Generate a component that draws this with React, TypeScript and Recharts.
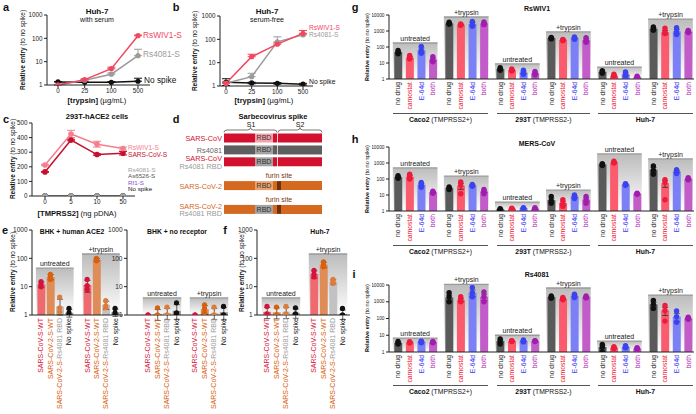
import React from "react";
import {
  LineChart, Line, XAxis, YAxis, ErrorBar, ComposedChart, Bar, Cell, Scatter,
  ReferenceArea, ReferenceLine, BarChart, LabelList,
} from "recharts";

const FONT = '"Liberation Sans", Arial, Helvetica, sans-serif';
const AX = { stroke: "#222", strokeWidth: 1 };

// ---------- panel a / b (Huh-7, trypsin) ----------
const trypsinConc = ["0", "25", "100", "500"];
const aRsWIV1 = [1.0, 1.7, 5.0, 130];
const aRsWIV1Err = [0.05, 0.15, 0.8, 8];
const aRs4081 = [1.0, 1.6, 2.9, 18];
const aRs4081Err = [0.05, 0.2, 0.4, 16];
const aNoSpike = [1.35, 1.3, 1.3, 1.45];
const aNoSpikeErr = [0.05, 0.05, 0.1, 0.5];

const bRsWIV1 = [1.3, 18, 62, 180];
const bRsWIV1Err = [0.1, 5, 8, 60];
const bRs4081 = [1.3, 2.5, 78, 155];
const bRs4081Err = [0.3, 1.0, 50, 15];
const bNoSpike = [1.45, 1.35, 1.3, 1.2];
const bNoSpikeErr = [0.6, 0.1, 0.1, 0.1];

// ---------- panel c (293T-hACE2, TMPRSS2) ----------
const tmprss2 = ["0", "5", "10", "50"];
const cRsWIV1 = [212, 425, 355, 325];
const cRsWIV1Err = [5, 25, 20, 10];
const cSARS = [165, 383, 284, 293];
const cSARSErr = [3, 5, 5, 12];
const cRs4081 = [0, 0, 0, 0];
const cAs6526 = [0, 0, 0, 0];
const cRf1 = [0, 0, 0, 0];
const cNoSpike = [0, 0, 0, 0];

// ---------- panel d (schematic) ----------
const dIds = ["r1", "r2", "r3", "s1", "r4", "s2", "r5"];
const dPre = [31, 31, 31, 0, 31, 0, 31];
const dRbd = [18, 18, 18, 0, 18, 0, 18];
const dMid = [4, 4, 4, 0, 4, 0, 4];
const dSite = [1, 1, 1, 0, 4, 0, 4];
const dPost = [44, 44, 44, 0, 41, 0, 41];
const dBody = ["#d3112f", "#5e5e5e", "#d3112f", "#fff", "#d4691f", "#fff", "#d4691f"];
const dRbdCol = ["#f4a3ad", "#a3a3a3", "#a3a3a3", "#fff", "#eba26c", "#fff", "#a3a3a3"];
const dSiteCol = ["#f7cdd3", "#cfcfcf", "#f7cdd3", "#fff", "#6e2f0b", "#fff", "#6e2f0b"];
const dRbdText = ["RBD", "RBD", "RBD", "", "RBD", "", "RBD"];
const dFurin = ["", "", "", "", "furin site", "", "furin site"];
const RED = "#d3112f", DGRAY = "#666", ORANGE = "#d4691f", LGRAY = "#9a9a9a";
const dLabels: any = {
  r1: [{ t: "SARS-CoV", c: RED }],
  r2: [{ t: "Rs4081", c: DGRAY }],
  r3: [{ t: "SARS-CoV", c: RED }, { t: "Rs4081 RBD", c: LGRAY }],
  r4: [{ t: "SARS-CoV-2", c: ORANGE }],
  r5: [{ t: "SARS-CoV-2", c: ORANGE }, { t: "Rs4081 RBD", c: LGRAY }],
};

// ---------- panels e / f ----------
const spikes = ["SARS-CoV-S-WT", "SARS-CoV-2-S-WT", "SARS-CoV-2-S-Rs4081 RBD", "No spike"];
const spikeBar = ["#ef6a6e", "#de8c58", "#c2c2c2", "#8a8a8a"];
const spikeDot = ["#d6133a", "#d8600e", "#dc7b3a", "#111111"];
const spikeLabel = [
  [{ t: "SARS-CoV-S-WT", c: "#d6133a" }],
  [{ t: "SARS-CoV-2-S-WT", c: "#d8600e" }],
  [{ t: "SARS-CoV-2-S-", c: "#d8600e" }, { t: "Rs4081 RBD", c: "#9a9a9a" }],
  [{ t: "No spike", c: "#111" }],
];
const eAce2Means = [[12, 22, 2.0, 1.2], [11.5, 90, 2.3, 1.25]];
const eAce2Reps = [
  [[10, 12, 15], [18, 22, 27], [1.3, 1.8, 4.3], [1.0, 1.2, 1.7]],
  [[8, 11, 18], [82, 90, 100], [1.8, 2.1, 3.2], [1.0, 1.2, 1.7]],
];
const eNoRecMeans = [[1.0, 1.1, 1.2, 1.4], [1.0, 1.6, 1.2, 1.25]];
const eNoRecReps = [
  [[1, 1, 1], [1, 1, 1.8], [1, 1, 1.9], [1, 1.2, 2.7]],
  [[1, 1, 1], [1.2, 1.7, 2.3], [1, 1, 1.9], [1, 1, 2.0]],
];
const fHuh7Means = [[1.3, 1.25, 1.3, 1.2], [28, 60, 15, 1.1]];
const fHuh7Reps = [
  [[1, 1.1, 2.0], [1, 1, 1.9], [1, 1.1, 2.0], [1, 1.1, 1.8]],
  [[22, 28, 38], [50, 60, 75], [13, 15, 18], [1, 1, 1.7]],
];
const eAce2BoxTop = [45, 142];
const eNoRecBoxTop = [4, 4];
const fHuh7BoxTop = [4, 142];
const treatments = ["untreated", "+trypsin"];

// ---------- panels g / h / i ----------
const drugs = ["no drug", "camostat", "E-64d", "both"];
const drugBar = ["#5a5a5a", "#fb5b6f", "#7b80f6", "#c25cc9"];
const drugDot = ["#111111", "#f01a3a", "#3b42f2", "#a21cb0"];
const drugText = ["#111", "#ee1434", "#3535f5", "#b016b0"];
const cellLines = ["Caco2", "293T", "Huh-7"];
const cellNotes = [" (TMPRSS2+)", " (TMPRSS2-)", ""];

const gMeans = [
  [48, 22, 65, 17], [3000, 2500, 2800, 3000], [4.2, 3.6, 2.6, 2.3],
  [360, 280, 360, 270], [2.8, 1.6, 2.0, 1.3], [1400, 850, 950, 900],
];
const gReps = [
  [[38, 45, 60], [18, 22, 30], [40, 60, 110], [12, 16, 25]],
  [[2600, 3000, 3500], [2300, 2500, 2800], [2000, 2600, 4000], [2500, 3000, 3700]],
  [[3.5, 4.2, 5], [3.2, 3.6, 4.2], [2.0, 2.5, 3.5], [1.8, 2.2, 3.0]],
  [[320, 360, 400], [250, 280, 300], [300, 350, 420], [200, 260, 380]],
  [[2.3, 2.8, 3.3], [1.4, 1.6, 2.0], [1.5, 2.0, 2.8], [1.1, 1.3, 1.5]],
  [[1100, 1400, 1800], [700, 900, 1500], [600, 900, 1600], [800, 900, 1100]],
];
const gBoxTop = [178, 7500, 8.7, 870, 5.6, 5600];

const hMeans = [
  [130, 140, 45, 15], [27, 38, 40, 17], [1.3, 1.4, 1.5, 1.4],
  [4.8, 3.2, 8, 5.2], [800, 1100, 45, 12], [380, 55, 300, 100],
];
const hReps = [
  [[110, 130, 160], [100, 130, 200], [30, 45, 60], [13, 15, 17]],
  [[22, 27, 32], [12, 40, 65], [35, 40, 45], [12, 17, 22]],
  [[1.1, 1.3, 1.4], [1.3, 1.4, 1.5], [1.3, 1.5, 1.6], [1.2, 1.4, 1.6]],
  [[3, 4.5, 8], [2, 3, 5], [6, 8, 10], [3, 5, 8]],
  [[700, 800, 900], [1000, 1100, 1300], [40, 45, 50], [11, 12, 13]],
  [[200, 350, 650], [5, 60, 90], [220, 300, 380], [90, 100, 120]],
];
const hBoxTop = [490, 150, 3.6, 20, 3700, 1800];

const iMeans = [
  [3.5, 3.8, 4, 3.8], [1800, 1300, 3500, 2000], [4.5, 4.5, 4.5, 4.5],
  [1900, 1500, 2200, 1900], [2.0, 1.8, 2.0, 1.6], [700, 300, 130, 100],
];
const iReps = [
  [[3, 3.5, 4.2], [3.5, 3.8, 4.1], [3.6, 4, 4.5], [3.6, 3.8, 4.2]],
  [[1000, 2000, 3500], [1000, 1300, 2000], [2000, 3500, 7000], [1000, 2000, 3800]],
  [[3, 4.5, 6], [4.2, 4.5, 4.8], [4, 4.5, 5.2], [4.2, 4.5, 4.8]],
  [[1600, 1900, 2200], [1300, 1500, 1800], [1800, 2200, 2800], [1700, 1900, 2200]],
  [[1.0, 2.0, 2.8], [1.6, 1.8, 2.1], [1.8, 2.0, 2.4], [1.4, 1.6, 1.8]],
  [[400, 700, 1200], [70, 300, 600], [60, 130, 280], [90, 100, 120]],
];
const iBoxTop = [6.8, 11000, 10, 6600, 4.5, 2500];

// ---------- helpers ----------
type Frame = { cl: number; ct: number; cw: number; ch: number; l: number; t: number; r: number; b: number };
const fr = (f: Frame) => ({
  margin: { top: f.t - f.ct, right: f.cl + f.cw - f.r, bottom: 0, left: 0 },
  yW: f.l - f.cl,
  xH: f.ct + f.ch - f.b,
});

function T(props: any) {
  const { x, y, s = 7, w = 400, c = "#111", a = "c", rot = false, children } = props;
  const tx = a === "c" ? "-50%" : a === "r" ? "-100%" : "0";
  return (
    <div
      style={{
        position: "absolute", left: x, top: y, fontSize: s, fontWeight: w, color: c,
        whiteSpace: "nowrap", lineHeight: 1,
        transform: `translate(${tx},-50%)${rot ? " rotate(-90deg)" : ""}`,
      }}
    >
      {children}
    </div>
  );
}

function YLab({ x, y, s = 6.5 }: any) {
  return (
    <T x={x} y={y} s={s} rot>
      <b>Relative entry</b> (to no spike)
    </T>
  );
}

function buildBars(means: number[][], reps: number[][][], fills: string[], dots: string[], labels: any[], stride: number, useSd: boolean) {
  const bars: any[] = [];
  const pts: any[] = [];
  means.forEach((grp, gi) =>
    grp.forEach((v, di) => {
      const x = gi * stride + di;
      const r = reps[gi][di];
      const m = r.reduce((a, b) => a + b, 0) / r.length;
      const sd = Math.sqrt(r.reduce((a, b) => a + (b - m) * (b - m), 0) / (r.length - 1));
      const e = useSd ? sd : sd / Math.sqrt(r.length);
      bars.push({ x, v, err: [Math.min(e, v * 0.5), e], fill: fills[di], lab: labels[di] });
      r.forEach((y) => pts.push({ x, y, c: dots[di] }));
    })
  );
  return { bars, pts };
}

function BarPanel(props: any) {
  const { f, bars, pts, xDomain, yDomain, yTicks, boxes, boxL, boxR, stride, yFont, tickFont, dotR } = props;
  const g = fr(f);
  const RotTick = (tp: any) => {
    const d = bars[tp.index];
    if (!d) return null;
    const { x, y } = tp;
    return (
      <text x={x} y={y} transform={`rotate(-90 ${x} ${y})`} textAnchor="end" dy="0.35em" fontSize={tickFont}>
        {d.lab.map((s: any, i: number) => (
          <tspan key={i} fill={s.c}>{s.t}</tspan>
        ))}
      </text>
    );
  };
  return (
    <div style={{ position: "absolute", left: f.cl, top: f.ct }}>
      <ComposedChart width={f.cw} height={f.ch} data={bars} margin={g.margin}>
        <XAxis
          type="number" dataKey="x" domain={xDomain} ticks={bars.map((d: any) => d.x)} interval={0}
          allowDataOverflow height={g.xH} tickLine={false} tickSize={0} tickMargin={3} axisLine={AX} tick={RotTick}
        />
        <YAxis
          type="number" scale="log" domain={yDomain} ticks={yTicks} allowDataOverflow width={g.yW} interval={0}
          tickSize={3} tickMargin={1.5} axisLine={AX} tickLine={AX} tick={{ fontSize: yFont, fill: "#222" }}
        />
        {boxes.map((top: number, gi: number) => (
          <ReferenceArea
            key={"a" + gi} x1={gi * stride + boxL} x2={gi * stride + boxR} y1={yDomain[0]} y2={top}
            fill="url(#shadeG)" fillOpacity={1} stroke="none" ifOverflow="visible" zIndex={-10}
            label={{ value: treatments[gi % 2], position: "top", fontSize: 7, fill: "#222", offset: 2 }}
          />
        ))}
        {boxes.map((top: number, gi: number) => (
          <ReferenceLine
            key={"l" + gi}
            segment={[{ x: gi * stride + boxL, y: top }, { x: gi * stride + boxR, y: top }]}
            stroke="#9a9a9a" strokeWidth={1.3} ifOverflow="visible"
          />
        ))}
        <Bar dataKey="v" barSize={8} isAnimationActive={false}>
          {bars.map((d: any, i: number) => (
            <Cell key={i} fill={d.fill} />
          ))}
          <ErrorBar dataKey="err" width={3} stroke="#222" strokeWidth={0.7} direction="y" />
        </Bar>
        <Scatter
          data={pts} dataKey="y" isAnimationActive={false}
          shape={(s: any) => <circle cx={s.cx} cy={s.cy} r={dotR} fill={s.payload.c} />}
        />
      </ComposedChart>
    </div>
  );
}

function LinePanel(props: any) {
  const { f, data, pad, log, yDomain, yTicks, series, dotR, xFont, yFont } = props;
  const g = fr(f);
  return (
    <div style={{ position: "absolute", left: f.cl, top: f.ct }}>
      <LineChart width={f.cw} height={f.ch} data={data} margin={g.margin}>
        <XAxis
          dataKey="c" type="category" padding={{ left: pad[0], right: pad[1] }} height={g.xH} interval={0}
          tickSize={3} tickMargin={1} axisLine={AX} tickLine={AX} tick={{ fontSize: xFont, fill: "#222" }}
        />
        <YAxis
          type="number" scale={log ? "log" : "linear"} domain={yDomain} ticks={yTicks} allowDataOverflow
          width={g.yW} interval={0} tickSize={3} tickMargin={1.5} axisLine={AX} tickLine={AX}
          tick={{ fontSize: yFont, fill: "#222" }}
        />
        {series.map((s: any) => (
          <Line
            key={s.k} dataKey={s.k} stroke={s.c} strokeWidth={1.5} isAnimationActive={false}
            dot={{ r: dotR, fill: s.c, stroke: s.c, strokeWidth: 0 }} activeDot={false}
          >
            {s.e ? <ErrorBar dataKey={s.e} width={4} stroke={s.c} strokeWidth={1} direction="y" /> : null}
          </Line>
        ))}
      </LineChart>
    </div>
  );
}

function DTick(tp: any) {
  const lines = dLabels[tp.payload.value] || [];
  const n = lines.length;
  return (
    <g>
      {lines.map((ln: any, i: number) => (
        <text key={i} x={tp.x} y={tp.y + (i - (n - 1) / 2) * 7.5} dy="0.35em" textAnchor="end" fontSize={7.3} fill={ln.c}>
          {ln.t}
        </text>
      ))}
    </g>
  );
}

function FurinLabel(p: any) {
  if (!p.value) return null;
  return (
    <text x={p.x + p.width / 2} y={p.y - 3} textAnchor="middle" fontSize={7} fill="#7a3410">
      {p.value}
    </text>
  );
}

function SpikePanel() {
  const data = dIds.map((id, i) => ({
    id, pre: dPre[i], rbd: dRbd[i], mid: dMid[i], site: dSite[i], post: dPost[i],
    rbdText: dRbdText[i], furin: dFurin[i],
  }));
  const f = { cl: 172, ct: 130, cw: 152, ch: 88 };
  return (
    <div style={{ position: "absolute", left: f.cl, top: f.ct }}>
      <BarChart
        width={f.cw} height={f.ch} data={data} layout="vertical" barSize={9}
        margin={{ top: 2.5, right: 2, bottom: 2.2, left: 0 }}
      >
        <XAxis type="number" hide domain={[0, 98]} allowDataOverflow />
        <YAxis type="category" dataKey="id" width={52} axisLine={false} tickLine={false} tickSize={0} tickMargin={2} interval={0} tick={DTick} />
        <Bar dataKey="pre" stackId="s" isAnimationActive={false}>
          {data.map((d, i) => <Cell key={i} fill={dBody[i]} />)}
        </Bar>
        <Bar dataKey="rbd" stackId="s" isAnimationActive={false}>
          {data.map((d, i) => <Cell key={i} fill={dRbdCol[i]} />)}
          <LabelList dataKey="rbdText" position="center" fontSize={7} fill="#333" />
        </Bar>
        <Bar dataKey="mid" stackId="s" isAnimationActive={false}>
          {data.map((d, i) => <Cell key={i} fill={dBody[i]} />)}
        </Bar>
        <Bar dataKey="site" stackId="s" isAnimationActive={false}>
          {data.map((d, i) => <Cell key={i} fill={dSiteCol[i]} />)}
          <LabelList dataKey="furin" content={FurinLabel} />
        </Bar>
        <Bar dataKey="post" stackId="s" isAnimationActive={false}>
          {data.map((d, i) => <Cell key={i} fill={dBody[i]} />)}
        </Bar>
      </BarChart>
    </div>
  );
}

function brace(x1: number, x2: number, y: number) {
  const m = (x1 + x2) / 2;
  return `M${x1} ${y + 2.5} Q${x1} ${y} ${x1 + 3} ${y} L${m - 3} ${y} Q${m} ${y} ${m} ${y - 2.5} Q${m} ${y} ${m + 3} ${y} L${x2 - 3} ${y} Q${x2} ${y} ${x2} ${y + 2.5}`;
}

export default function App() {
  const aData = trypsinConc.map((c, i) => ({
    c, w: aRsWIV1[i], wE: [0, aRsWIV1Err[i]], r: aRs4081[i], rE: [0, aRs4081Err[i]], n: aNoSpike[i], nE: [0, aNoSpikeErr[i]],
  }));
  const bData = trypsinConc.map((c, i) => ({
    c, w: bRsWIV1[i], wE: [0, bRsWIV1Err[i]], r: bRs4081[i], rE: [0, bRs4081Err[i]], n: bNoSpike[i], nE: [Math.min(0.4, bNoSpikeErr[i]), bNoSpikeErr[i]],
  }));
  const cData = tmprss2.map((c, i) => ({
    c, w: cRsWIV1[i], wE: cRsWIV1Err[i], s: cSARS[i], sE: cSARSErr[i],
    r4: cRs4081[i], as: cAs6526[i], rf: cRf1[i], n: cNoSpike[i],
  }));
  const abSeries = [
    { k: "n", e: "nE", c: "#111" },
    { k: "r", e: "rE", c: "#9b9b9b" },
    { k: "w", e: "wE", c: "#f2475f" },
  ];
  const cSeries = [
    { k: "n", c: "#111" }, { k: "rf", c: "#8a4fd8" }, { k: "as", c: "#666" }, { k: "r4", c: "#a0a0a0" },
    { k: "s", e: "sE", c: "#c8102e" }, { k: "w", e: "wE", c: "#f4808f" },
  ];

  const ES = 4.95;
  const eA = buildBars(eAce2Means, eAce2Reps, spikeBar, spikeDot, spikeLabel, ES, true);
  const eN = buildBars(eNoRecMeans, eNoRecReps, spikeBar, spikeDot, spikeLabel, ES, true);
  const fH = buildBars(fHuh7Means, fHuh7Reps, spikeBar, spikeDot, spikeLabel, ES, true);
  const drugLab = drugs.map((d, i) => [{ t: d, c: drugText[i] }]);
  const GS = 4.4;
  const gB = buildBars(gMeans, gReps, drugBar, drugDot, drugLab, GS, false);
  const hB = buildBars(hMeans, hReps, drugBar, drugDot, drugLab, GS, false);
  const iB = buildBars(iMeans, iReps, drugBar, drugDot, drugLab, GS, false);
  const logT4 = [1, 10, 100, 1000, 10000];
  const logT3 = [1, 10, 100, 1000];

  const ePanel = (f: Frame, d: any, xDomain: number[], boxes: number[]) => (
    <BarPanel
      f={f} bars={d.bars} pts={d.pts} xDomain={xDomain} yDomain={[1, 1000]} yTicks={logT3} boxes={boxes}
      boxL={-0.55} boxR={3.5} stride={ES} yFont={6.5} tickFont={7} dotR={2.6}
    />
  );
  const gPanel = (f: Frame, d: any, boxes: number[]) => (
    <BarPanel
      f={f} bars={d.bars} pts={d.pts} xDomain={[-0.78, 25.5]} yDomain={[1, 10000]} yTicks={logT4} boxes={boxes}
      boxL={-0.45} boxR={3.4} stride={GS} yFont={4.8} tickFont={6.8} dotR={2.7}
    />
  );
  const brackets = (y: number) =>
    cellLines.map((cl, k) => {
      const x1 = [393, 497, 598][k];
      const x2 = [488, 590, 693][k];
      return (
        <React.Fragment key={cl + y}>
          <div style={{ position: "absolute", left: x1, top: y, width: x2 - x1, height: 0, borderTop: "1.2px solid #555" }} />
          <T x={(x1 + x2) / 2} y={y + 7} s={6.8}>
            <b>{cl}</b>{cellNotes[k]}
          </T>
        </React.Fragment>
      );
    });

  return (
    <div style={{ position: "relative", width: 696, height: 414, background: "#fff", fontFamily: FONT, overflow: "hidden", color: "#111" }}>
      <style>{`body{margin:0}`}</style>
      <svg width="0" height="0" style={{ position: "absolute" }}>
        <defs>
          <linearGradient id="shadeG" x1="0" y1="0" x2="0" y2="1">
            <stop offset="0" stopColor="#bcbcbc" />
            <stop offset="1" stopColor="#ffffff" />
          </linearGradient>
        </defs>
      </svg>

      {/* a */}
      <LinePanel
        f={{ cl: 25, ct: 10, cw: 130, ch: 95, l: 47, t: 15, r: 150, b: 85 }} data={aData} pad={[11, 12]} log
        yDomain={[1, 1000]} yTicks={logT3} series={abSeries} dotR={2.6} xFont={6.3} yFont={6.3}
      />
      <T x={6} y={7} s={11} w={700}>a</T>
      <T x={97} y={12} s={8} w={700}>Huh-7</T>
      <T x={97} y={19} s={7}>with serum</T>
      <YLab x={23} y={50} />
      <T x={97} y={100.5} s={7.6}><b>[trypsin]</b> (µg/mL)</T>
      <T x={143} y={35} s={8.3} c="#f2475f" a="l">RsWIV1-S</T>
      <T x={143} y={54} s={8.3} c="#9b9b9b" a="l">Rs4081-S</T>
      <T x={144} y={80} s={8.3} c="#111" a="l">No spike</T>

      {/* b */}
      <LinePanel
        f={{ cl: 195, ct: 10, cw: 123, ch: 96, l: 220, t: 16, r: 313, b: 86 }} data={bData} pad={[6, 10]} log
        yDomain={[1, 1000]} yTicks={logT3} series={abSeries} dotR={2.6} xFont={6.3} yFont={6.3}
      />
      <T x={176} y={7} s={11} w={700}>b</T>
      <T x={267} y={12} s={8} w={700}>Huh-7</T>
      <T x={267} y={19} s={7}>serum-free</T>
      <YLab x={195} y={51} />
      <T x={264} y={101} s={7.6}><b>[trypsin]</b> (µg/mL)</T>
      <T x={309} y={28} s={6.6} c="#f2475f" a="l">RsWIV1-S</T>
      <T x={309} y={35} s={6.6} c="#9b9b9b" a="l">Rs4081-S</T>
      <T x={309} y={82} s={6.8} c="#111" a="l">No spike</T>

      {/* c */}
      <LinePanel
        f={{ cl: 10, ct: 118, cw: 128, ch: 98, l: 32, t: 123, r: 135, b: 196 }} data={cData} pad={[13, 12]} log={false}
        yDomain={[0, 500]} yTicks={[0, 100, 200, 300, 400, 500]} series={cSeries} dotR={2.8} xFont={6.3} yFont={6.3}
      />
      <T x={6} y={119} s={11} w={700}>c</T>
      <T x={97} y={117} s={7.5} w={700}>293T-hACE2 cells</T>
      <YLab x={13} y={159} />
      <T x={77} y={214} s={7.6}><b>[TMPRSS2]</b> (ng pDNA)</T>
      <T x={128} y={147.5} s={6.6} c="#f4808f" a="l">RsWIV1-S</T>
      <T x={128} y={154.5} s={6.6} c="#c8102e" a="l">SARS-CoV-S</T>
      <T x={128} y={169.5} s={6.2} c="#a0a0a0" a="l">Rs4081-S</T>
      <T x={128} y={176} s={6.2} c="#555" a="l">As6526-S</T>
      <T x={128} y={182.5} s={6.2} c="#8a4fd8" a="l">Rf1-S</T>
      <T x={128} y={189} s={6.2} c="#111" a="l">No spike</T>

      {/* d */}
      <T x={176} y={119} s={11} w={700}>d</T>
      <T x={273} y={117} s={7.5} w={700}>Sarbecovirus spike</T>
      <T x={251} y={124} s={7}>S1</T>
      <T x={300} y={124} s={7}>S2</T>
      <svg width={696} height={414} style={{ position: "absolute", left: 0, top: 0, pointerEvents: "none" }}>
        <path d={brace(224, 277, 130)} fill="none" stroke="#555" strokeWidth={0.8} />
        <path d={brace(278, 322, 130)} fill="none" stroke="#555" strokeWidth={0.8} />
      </svg>
      <SpikePanel />

      {/* e */}
      {ePanel({ cl: 10, ct: 226, cw: 115, ch: 188, l: 32, t: 230, r: 123, b: 315 }, eA, [-0.97, 8.8], eAce2BoxTop)}
      {ePanel({ cl: 105, ct: 226, cw: 125, ch: 188, l: 127, t: 230, r: 228, b: 315 }, eN, [-2.21, 8.42], eNoRecBoxTop)}
      <T x={5} y={230} s={11} w={700}>e</T>
      <T x={72} y={232} s={6.8} w={700}>BHK + human ACE2</T>
      <T x={177} y={232} s={6.8} w={700}>BHK + no receptor</T>
      <YLab x={13} y={272} />

      {/* f */}
      {ePanel({ cl: 235, ct: 226, cw: 117, ch: 188, l: 257, t: 230, r: 350, b: 315 }, fH, [-1.05, 8.74], fHuh7BoxTop)}
      <T x={225} y={230} s={11} w={700}>f</T>
      <T x={320} y={232} s={6.8} w={700}>Huh-7</T>
      <YLab x={242} y={272} />

      {/* g */}
      {gPanel({ cl: 372, ct: 2, cw: 324, ch: 110, l: 389, t: 15, r: 694, b: 79 }, gB, gBoxTop)}
      <T x={355} y={7} s={11} w={700}>g</T>
      <T x={537} y={8} s={7} w={700}>RsWIV1</T>
      <YLab x={368} y={47} s={5.5} />
      {brackets(113)}

      {/* h */}
      {gPanel({ cl: 372, ct: 134, cw: 324, ch: 110, l: 389, t: 147, r: 694, b: 211 }, hB, hBoxTop)}
      <T x={355} y={139} s={11} w={700}>h</T>
      <T x={537} y={143} s={7} w={700}>MERS-CoV</T>
      <YLab x={368} y={179} s={5.5} />
      {brackets(245)}

      {/* i */}
      {gPanel({ cl: 372, ct: 270, cw: 324, ch: 114, l: 389, t: 285, r: 694, b: 352 }, iB, iBoxTop)}
      <T x={354} y={274} s={11} w={700}>i</T>
      <T x={537} y={274} s={7} w={700}>Rs4081</T>
      <YLab x={368} y={318} s={5.5} />
      {brackets(385)}
    </div>
  );
}
